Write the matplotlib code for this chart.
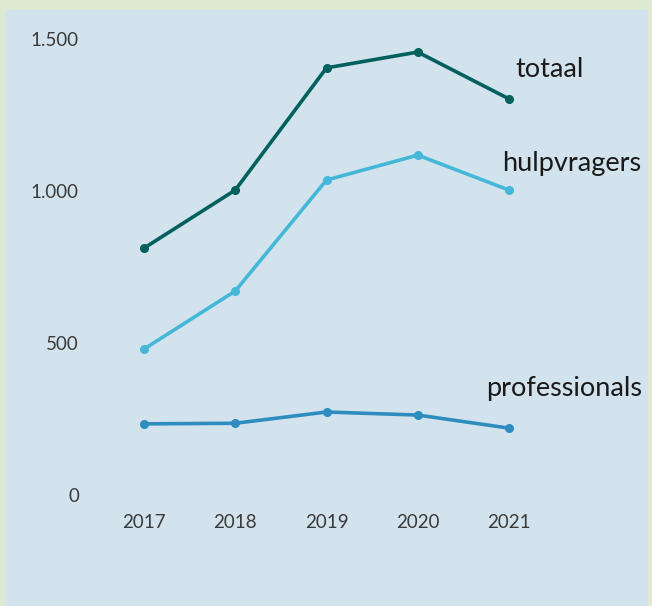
import matplotlib
matplotlib.use("Agg")
import matplotlib.pyplot as plt
from matplotlib.patches import Rectangle

years = [2017, 2018, 2019, 2020, 2021]
totaal = [812, 1003, 1405, 1457, 1303]
hulpvragers = [480, 671, 1036, 1118, 1003]
professionals = [234, 236, 273, 263, 220]
yticks = [0, 500, 1000, 1500]
ytick_labels = ["0", "500", "1.000", "1.500"]

W, H = 652, 606
fig = plt.figure(figsize=(W / 100, H / 100), dpi=100)
fig.patch.set_facecolor("#dde9d0")
fig.patches.append(Rectangle((5 / W, 0), 643 / W, (H - 10) / H, transform=fig.transFigure,
                             facecolor="#d3e3ee", edgecolor="none", zorder=-5))

left, right, top, bottom = 90, 560, 39, 495
ax = fig.add_axes([left / W, 1 - bottom / H, (right - left) / W, (bottom - top) / H])
ax.set_zorder(2)
ax.set_facecolor("none")
ax.set_xlim(2017 - 54 / 91.25, 2021 + 51 / 91.25)
ax.set_ylim(0, 1500)
for s in ax.spines.values():
    s.set_visible(False)

font = "Lato"
series = [(totaal, "#00605e", "totaal", 2021.066, 1401),
          (hulpvragers, "#45b8d9", "hulpvragers", 2020.92, 1092),
          (professionals, "#2e8cbf", "professionals", 2020.75, 349)]
for vals, col, lab, tx, ty in series:
    ax.plot(years, vals, color=col, lw=2.6, marker="o", ms=5.5, clip_on=False, zorder=3)
    ax.text(tx, ty, lab, fontsize=19.5, color="#1a1a1a", family=font,
            va="center", ha="left")

ax.set_xticks(years)
ax.set_xticklabels([str(y) for y in years], family=font, fontsize=13.5, color="#3a3a3a")
ax.set_yticks(yticks)
ax.set_yticklabels(ytick_labels, family=font, fontsize=13.5, color="#3a3a3a")
ax.tick_params(axis="x", length=0, pad=14)
ax.tick_params(axis="y", length=0, pad=8)

fig.savefig("out.png", dpi=100, facecolor=fig.get_facecolor())
